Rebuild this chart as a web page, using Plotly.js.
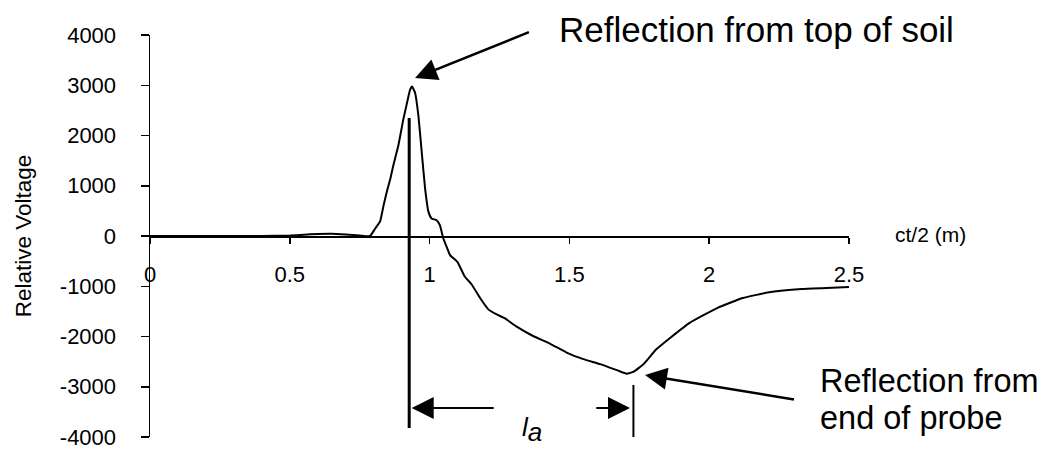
<!DOCTYPE html>
<html>
<head>
<meta charset="utf-8">
<script src="https://cdn.plot.ly/plotly-3.0.1.min.js"></script>
<style>html,body{margin:0;padding:0;background:#fff;}#chart{width:1060px;height:449px;}</style>
</head>
<body>
<div id="chart"></div>
<script>
// ct/2 (m)
var distance = [0, 0.1, 0.2, 0.3, 0.4, 0.5, 0.55, 0.6, 0.65, 0.7, 0.75, 0.787, 0.805, 0.823, 0.835, 0.847, 0.86, 0.87, 0.888, 0.906, 0.918, 0.93, 0.937, 0.948, 0.96, 0.972, 0.984, 0.996, 1.007, 1.025, 1.037, 1.049, 1.061, 1.073, 1.1, 1.125, 1.15, 1.18, 1.21, 1.24, 1.27, 1.31, 1.37, 1.43, 1.49, 1.55, 1.61, 1.67, 1.705, 1.73, 1.765, 1.81, 1.86, 1.93, 2.03, 2.12, 2.22, 2.33, 2.42, 2.5];
// Relative Voltage
var voltage = [0, 0, 0, 0, 0, 10, 25, 40, 45, 30, 10, 0, 145, 290, 600, 880, 1150, 1400, 1795, 2320, 2620, 2910, 2975, 2850, 2390, 1660, 940, 480, 350, 315, 210, -50, -215, -380, -520, -800, -960, -1230, -1460, -1560, -1640, -1800, -1990, -2140, -2320, -2450, -2550, -2670, -2740, -2700, -2550, -2260, -2030, -1730, -1430, -1235, -1115, -1057, -1037, -1017];

var xTicks = [0, 0.5, 1, 1.5, 2, 2.5];
var xTickText = ['0', '0.5', '1', '1.5', '2', '2.5'];
var yTicks = [-4000, -3000, -2000, -1000, 0, 1000, 2000, 3000, 4000];
var yTickText = ['-4000', '-3000', '-2000', '-1000', '0', '1000', '2000', '3000', '4000'];

// reference markers (soil top, probe end) and arrow endpoints
var soilTop = 0.927, probeEnd = 1.729;
var laY = -3423;

var FONT = 'Liberation Sans, Arial, Helvetica, sans-serif';

var trace = {
  x: distance, y: voltage, type: 'scatter', mode: 'lines',
  line: {color: '#000', width: 2, shape: 'spline', smoothing: 0.4},
  hoverinfo: 'skip', showlegend: false
};

function arrow(x, y, ax, ay, w, size) {
  return {x: x, y: y, xref: 'x', yref: 'y', ax: ax, ay: ay, axref: 'x', ayref: 'y',
    text: ' ', showarrow: true, arrowhead: 2, arrowsize: size, arrowwidth: w,
    arrowcolor: '#000', standoff: 0, startstandoff: 0};
}

var layout = {
  width: 1060, height: 449,
  margin: {l: 150, r: 211, t: 35, b: 12, pad: 0},
  paper_bgcolor: '#fff', plot_bgcolor: '#fff',
  font: {family: FONT, color: '#000'},
  showlegend: false,
  xaxis: {
    range: [0, 2.5], anchor: 'free', position: 0.5,
    showline: true, linecolor: '#000', linewidth: 1.5,
    ticks: 'outside', ticklen: 6, tickwidth: 1.5, tickcolor: '#000',
    tickvals: xTicks, ticktext: xTickText,
    tickfont: {family: FONT, size: 22, color: '#000'},
    ticklabelstandoff: 12, ticklabeloverflow: 'allow',
    showgrid: false, zeroline: false, fixedrange: true
  },
  yaxis: {
    range: [-4000, 4000],
    showline: true, linecolor: '#000', linewidth: 1.5,
    ticks: 'outside', ticklen: 8, tickwidth: 1.5, tickcolor: '#000',
    tickvals: yTicks, ticktext: yTickText,
    tickfont: {family: FONT, size: 22, color: '#000'},
    ticklabelstandoff: 20, ticklabeloverflow: 'allow',
    showgrid: false, zeroline: false, fixedrange: true,
    title: {text: 'Relative Voltage', font: {family: FONT, size: 22.5, color: '#000'}, standoff: 22}
  },
  shapes: [
    {type: 'line', xref: 'x', yref: 'y', x0: soilTop, x1: soilTop, y0: 2350, y1: -3821, line: {color: '#000', width: 3}},
    {type: 'line', xref: 'x', yref: 'y', x0: probeEnd, x1: probeEnd, y0: -2965, y1: -4000, line: {color: '#000', width: 2}}
  ],
  annotations: [
    arrow(0.948, 3144, 1.366, 4080, 2.5, 1.76),
    arrow(1.7704, -2766, 2.314, -3264, 2.5, 1.76),
    arrow(0.936, laY, 1.240, laY, 2, 2.2),
    arrow(1.7167, laY, 1.5855, laY, 2, 2.2),
    {x: 0.582, y: 1.0149, xref: 'paper', yref: 'paper', xanchor: 'left', yanchor: 'middle',
      text: 'Reflection from top of soil', showarrow: false, font: {family: FONT, size: 35, color: '#000'}},
    {x: 0.9557, y: 0.1405, xref: 'paper', yref: 'paper', xanchor: 'left', yanchor: 'middle',
      text: 'Reflection from', showarrow: false, font: {family: FONT, size: 32.5, color: '#000'}},
    {x: 0.9557, y: 0.0485, xref: 'paper', yref: 'paper', xanchor: 'left', yanchor: 'middle',
      text: 'end of probe', showarrow: false, font: {family: FONT, size: 32.5, color: '#000'}},
    {x: 1.0630, y: 0.5042, xref: 'paper', yref: 'paper', xanchor: 'left', yanchor: 'middle',
      text: 'ct/2 (m)', showarrow: false, font: {family: FONT, size: 21, color: '#000'}},
    {x: 1.3233, y: -3841, xref: 'x', yref: 'y', xanchor: 'left', yanchor: 'middle',
      text: '<i>l</i><sub><span style="font-size:26px;font-style:italic">a</span></sub>',
      showarrow: false, font: {family: FONT, size: 26, color: '#000'}}
  ]
};

Plotly.newPlot('chart', [trace], layout, {staticPlot: true, displayModeBar: false});
</script>
</body>
</html>
